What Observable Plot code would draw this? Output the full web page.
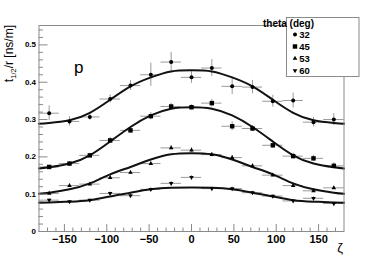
<!DOCTYPE html>
<html><head><meta charset="utf-8">
<script src="https://cdn.jsdelivr.net/npm/d3@7"></script>
<script src="https://cdn.jsdelivr.net/npm/@observablehq/plot@0.6"></script>
<style>
body{margin:0;background:#fff;}
#chart{position:relative;width:382px;height:258px;}
</style>
</head><body><div id="chart"></div>
<script>
// ---- data ----
const theta = ["32", "45", "53", "60"];
const zeta = [-168, -144, -120, -96, -72, -48, -24, 0, 24, 48, 72, 96, 120, 144, 168];
const zetaHalfWidth = 12;
const t32 = [0.317, 0.295, 0.307, 0.355, 0.391, 0.420, 0.454, 0.413, 0.438, 0.389, 0.387, 0.349, 0.351, 0.293, 0.300];
const e32 = [0.020, 0.0125, 0.009, 0.011, 0.013, 0.031, 0.026, 0.016, 0.023, 0.022, 0.018, 0.016, 0.020, 0.0125, 0.016];
const t45 = [0.173, 0.182, 0.204, 0.244, 0.271, 0.309, 0.335, 0.333, 0.344, 0.282, 0.276, 0.231, 0.202, 0.196, 0.176];
const e45 = [0.004, 0.005, 0.005, 0.008, 0.008, 0.010, 0.008, 0.007, 0.010, 0.012, 0.008, 0.008, 0.008, 0.008, 0.008];
const t53 = [0.102, 0.123, 0.127, 0.144, 0.158, 0.182, 0.224, 0.218, 0.206, 0.198, 0.176, 0.151, 0.123, 0.109, 0.117];
const e53 = [0.003, 0.004, 0.004, 0.005, 0.005, 0.005, 0.006, 0.006, 0.006, 0.006, 0.005, 0.005, 0.004, 0.004, 0.004];
const t60 = [0.084, 0.080, 0.084, 0.102, 0.096, 0.113, 0.129, 0.145, 0.115, 0.115, 0.104, 0.095, 0.082, 0.089, 0.075];
const e60 = [0.004, 0.003, 0.003, 0.004, 0.004, 0.004, 0.005, 0.005, 0.004, 0.004, 0.004, 0.004, 0.003, 0.004, 0.003];
const fitZeta = [-180, -168, -144, -120, -96, -72, -48, -24, 0, 24, 48, 72, 96, 120, 144, 168, 180];
const fit32 = [0.289, 0.291, 0.298, 0.318, 0.353, 0.389, 0.413, 0.429, 0.432, 0.429, 0.413, 0.389, 0.353, 0.318, 0.298, 0.291, 0.289];
const fit45 = [0.169, 0.172, 0.182, 0.204, 0.241, 0.280, 0.311, 0.329, 0.333, 0.329, 0.311, 0.280, 0.241, 0.204, 0.182, 0.172, 0.169];
const fit53 = [0.101, 0.104, 0.113, 0.129, 0.153, 0.173, 0.193, 0.207, 0.210, 0.207, 0.193, 0.173, 0.153, 0.129, 0.113, 0.104, 0.101];
const fit60 = [0.077, 0.078, 0.080, 0.084, 0.094, 0.104, 0.113, 0.117, 0.118, 0.117, 0.113, 0.104, 0.094, 0.084, 0.080, 0.078, 0.077];
const xMajor = [-150, -100, -50, 0, 50, 100, 150];
const yMajor = [0, 0.1, 0.2, 0.3, 0.4, 0.5];
const yLabels = ["0", "0.1", "0.2", "0.3", "0.4", "0.5"];
const legendTitle = "theta (deg)";
const panelLabel = "p";
const xTitle = "ζ";

// ---- tables ----
const values = [t32, t45, t53, t60];
const errors = [e32, e45, e53, e60];
const fits = [fit32, fit45, fit53, fit60];
const points = theta.flatMap((th, s) => zeta.map((z, i) => ({theta: th, zeta: z, t: values[s][i], e: errors[s][i]})));
const curves = theta.flatMap((th, s) => fitZeta.map((z, i) => ({theta: th, zeta: z, t: fits[s][i]})));
const xMinor = d3.range(-170, 171, 10).filter(v => v % 50 !== 0);
const yMinor = d3.range(0, 28).map(i => +(i * 0.02).toFixed(2)).filter((v, i) => i % 5 !== 0);

const font = "'Liberation Sans', Arial, sans-serif";
const gray = "#8a8a8a";
const of = th => d => d.theta === th;

const chart = Plot.plot({
  width: 382, height: 258,
  marginLeft: 38.5, marginRight: 38.5, marginTop: 25, marginBottom: 27,
  style: {fontFamily: font, background: "#fff", overflow: "visible"},
  x: {domain: [-180, 180], label: null},
  y: {domain: [0, 0.552], label: null},
  marks: [
    // error bars
    Plot.ruleX(points, {x: "zeta", y1: d => d.t - d.e, y2: d => d.t + d.e, stroke: "#9a9a9a", strokeWidth: 1}),
    Plot.ruleY(points, {y: "t", x1: d => d.zeta - zetaHalfWidth, x2: d => d.zeta + zetaHalfWidth, stroke: "#9a9a9a", strokeWidth: 1}),
    // fit curves
    Plot.line(curves, {x: "zeta", y: "t", z: "theta", stroke: "#111", strokeWidth: 2, curve: "natural"}),
    // markers
    Plot.dot(points.filter(of("32")), {x: "zeta", y: "t", symbol: "circle", r: 2, fill: "#000"}),
    Plot.dot(points.filter(of("45")), {x: "zeta", y: "t", symbol: "square", r: 2.5, fill: "#000"}),
    Plot.dot(points.filter(of("53")), {x: "zeta", y: "t", symbol: "triangle", r: 1.7, fill: "#000"}),
    Plot.dot(points.filter(of("60")), {x: "zeta", y: "t", symbol: "triangle", r: 1.7, fill: "#000", rotate: 180}),
    // frame
    Plot.frame({stroke: gray, strokeWidth: 1}),
    // x axis ticks (inside) and labels
    Plot.axisX({ticks: xMajor, tickSize: -7, tickFormat: () => "", stroke: gray, label: null}),
    Plot.axisX({ticks: xMinor, tickSize: -3.5, tickFormat: () => "", stroke: gray, label: null}),
    Plot.axisX({ticks: xMajor, tickSize: 0, tickPadding: 4, fontSize: 11, fontWeight: "bold", fill: "#000", label: null}),
    // y axis ticks (inside) and labels
    Plot.axisY({ticks: yMajor, tickSize: -9, tickFormat: () => "", stroke: gray, label: null}),
    Plot.axisY({ticks: yMinor, tickSize: -4.5, tickFormat: () => "", stroke: gray, label: null}),
    Plot.axisY({ticks: yMajor, tickSize: 0, tickPadding: 3, fontSize: 8, fontWeight: "bold", fill: "#000", label: null,
      tickFormat: d => yLabels[yMajor.indexOf(d)]}),
    // panel label
    Plot.text([panelLabel], {text: d => d, frameAnchor: "top-left", dx: 35, dy: 35, fontSize: 17, fill: "#000"})
  ]
});

const svg = d3.select(chart);

// y axis title with subscript
const yt = svg.append("text")
  .attr("transform", "translate(12.5,25) rotate(-90)")
  .attr("text-anchor", "end")
  .attr("font-family", font).attr("font-size", 12).attr("fill", "#000");
yt.append("tspan").text("t");
yt.append("tspan").attr("font-size", 7.5).attr("dy", 3).text("1/2");
yt.append("tspan").attr("dy", -3).text("/r [ns/m]");

// x axis title
svg.append("text").attr("x", 343).attr("y", 252).attr("text-anchor", "end")
  .attr("font-family", font).attr("font-size", 13).attr("fill", "#000").text(xTitle);

// legend
const lg = svg.append("g");
lg.append("rect").attr("x", 286.5).attr("y", 17.5).attr("width", 72.5).attr("height", 59)
  .attr("fill", "#fff").attr("stroke", gray).attr("stroke-width", 1);
lg.append("text").attr("x", 288.5).attr("y", 26.5).attr("font-family", font).attr("font-size", 10)
  .attr("font-weight", "bold").attr("fill", "#000").text(legendTitle);
const legendSymbols = [
  {type: d3.symbolCircle, size: Math.PI * 4, rot: 0},
  {type: d3.symbolSquare, size: Math.PI * 6.25, rot: 0},
  {type: d3.symbolTriangle, size: Math.PI * 2.9, rot: 0},
  {type: d3.symbolTriangle, size: Math.PI * 2.9, rot: 180}
];
theta.forEach((th, i) => {
  const cy = 34.5 + i * 12;
  lg.append("path").attr("d", d3.symbol(legendSymbols[i].type, legendSymbols[i].size)())
    .attr("transform", `translate(295,${cy}) rotate(${legendSymbols[i].rot})`).attr("fill", "#000");
  lg.append("text").attr("x", 304.5).attr("y", cy + 3.5).attr("font-family", font).attr("font-size", 9.5)
    .attr("font-weight", "bold").attr("fill", "#000").text(th);
});

document.getElementById("chart").appendChild(chart);
</script>
</body></html>
